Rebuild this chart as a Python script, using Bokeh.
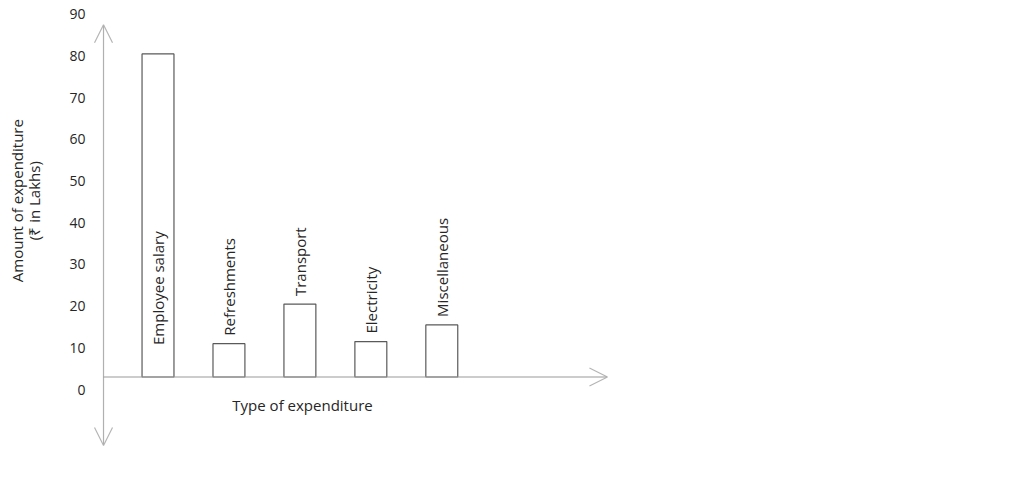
import math
from bokeh.plotting import figure
from bokeh.models import Range1d, FixedTicker, Arrow, OpenHead, Label, ColumnDataSource
from bokeh.core.properties import value
from bokeh.embed import file_html
from bokeh.resources import INLINE

# ---- data ----
categories = ["Employee salary", "Refreshments", "Transport", "Electricity", "Miscellaneous"]
amounts = [80.5, 11, 20.5, 11.5, 15.5]          # ₹ in Lakhs
y_ticks = [0, 10, 20, 30, 40, 50, 60, 70, 80, 90]
y_title = "Amount of expenditure\n(₹ in Lakhs)"
x_title = "Type of expenditure"
axis_crossing = 3                                 # horizontal axis crosses value axis here

# ---- layout / style ----
FONT = "Open Sans"
TXT = "#262626"
W, H = 1012, 466
X_LO, X_HI = -2.220, 12.044
Y_LO, Y_HI = -18.47, 93.31
X_AXIS = -0.768            # where the value axis stands
X_TIP = 6.335              # tip of the category-axis arrow
Y_ARROW_BOTTOM, Y_ARROW_TOP = -13.43, 87.5
BAR_W = 0.45

xs = list(range(len(categories)))

p = figure(width=W, height=H, output_backend="svg", toolbar_location=None,
           x_range=Range1d(X_LO, X_HI), y_range=Range1d(Y_LO, Y_HI),
           min_border=0, outline_line_color=None, background_fill_color="white")
p.grid.visible = False
p.xaxis.visible = False

# value axis placed at the arrow line (labels only; the line is drawn as a double arrow)
yax = p.yaxis[0]
yax.fixed_location = X_AXIS
yax.ticker = FixedTicker(ticks=y_ticks)
yax.axis_line_color = None
yax.major_tick_line_color = None
yax.minor_tick_line_color = None
yax.major_tick_out = 0
yax.major_tick_in = 0
yax.major_label_standoff = 18
yax.major_label_text_font = FONT
yax.major_label_text_font_size = "14px"
yax.major_label_text_color = TXT

src = ColumnDataSource(dict(x=xs, top=amounts, cat=categories))
p.vbar(x="x", width=BAR_W, bottom=axis_crossing, top="top", source=src,
       fill_color="white", line_color="#5a5a5a", line_width=1.2)

# category labels (rotated)
inside = [a >= 50 for a in amounts]
src_in = ColumnDataSource(dict(x=[x for x, f in zip(xs, inside) if f],
                               y=[axis_crossing for f in inside if f],
                               t=[c for c, f in zip(categories, inside) if f]))
src_out = ColumnDataSource(dict(x=[x for x, f in zip(xs, inside) if not f],
                                y=[a for a, f in zip(amounts, inside) if not f],
                                t=[c for c, f in zip(categories, inside) if not f]))
for s, off in ((src_in, -32), (src_out, -8)):
    p.text(x="x", y="y", text="t", source=s, angle=math.pi / 2, y_offset=off,
           text_align="left", text_baseline="middle",
           text_font=value(FONT), text_font_size="15px", text_color=TXT)

# arrows for the axes
head = dict(size=18, line_color="#b5b5b5", line_width=1.2)
p.add_layout(Arrow(x_start=X_AXIS, y_start=Y_ARROW_BOTTOM, x_end=X_AXIS, y_end=Y_ARROW_TOP,
                   start=OpenHead(**head), end=OpenHead(**head),
                   line_color="#b0b0b0", line_width=1.2))
p.add_layout(Arrow(x_start=X_AXIS, y_start=axis_crossing, x_end=X_TIP, y_end=axis_crossing,
                   end=OpenHead(**head), line_color="#9a9a9a", line_width=1.2))

# axis titles
p.add_layout(Label(x=-1.87, y=45.3, text=y_title, angle=math.pi / 2,
                   text_align="center", text_baseline="middle", text_line_height=0.84,
                   text_font=FONT, text_font_size="15px", text_color=TXT))
p.add_layout(Label(x=2.037, y=-3.6, text=x_title,
                   text_align="center", text_baseline="middle",
                   text_font=FONT, text_font_size="15px", text_color=TXT))

open("out.html", "w").write(file_html(p, INLINE))
